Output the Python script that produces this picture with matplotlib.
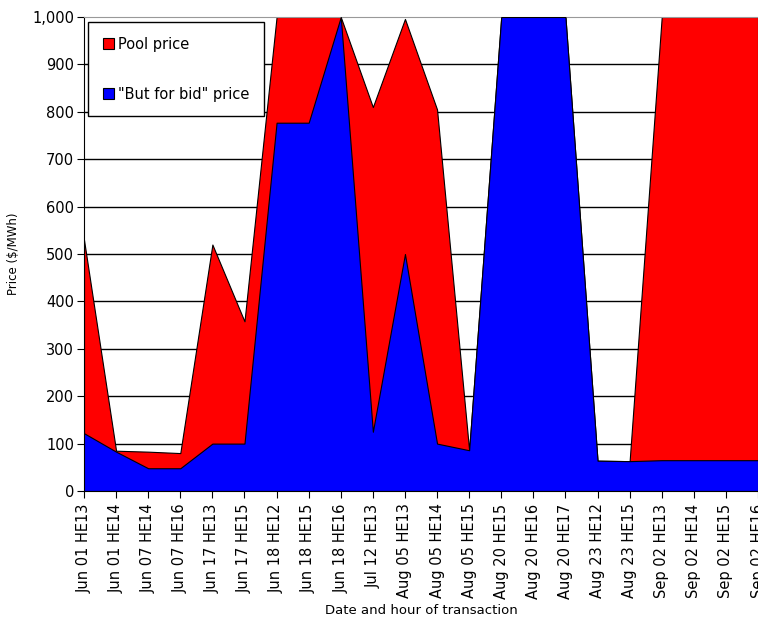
import numpy as np
import matplotlib.pyplot as plt
from matplotlib.ticker import FuncFormatter

# transaction labels along the x axis
hours = ["Jun 01 HE13", "Jun 01 HE14", "Jun 07 HE14", "Jun 07 HE16",
         "Jun 17 HE13", "Jun 17 HE15", "Jun 18 HE12", "Jun 18 HE15",
         "Jun 18 HE16", "Jul 12 HE13", "Aug 05 HE13", "Aug 05 HE14",
         "Aug 05 HE15", "Aug 20 HE15", "Aug 20 HE16", "Aug 20 HE17",
         "Aug 23 HE12", "Aug 23 HE15", "Sep 02 HE13", "Sep 02 HE14",
         "Sep 02 HE15", "Sep 02 HE16"]

pool_price = [530, 85, 83, 80, 520, 358, 1000, 1000, 1000, 810, 996, 805,
              86, 1000, 1000, 1000, 64, 63, 1000, 1000, 1000, 1000]
but_for_bid = [122, 83, 48, 48, 100, 100, 777, 777, 1000, 125, 500, 100,
               86, 1000, 1000, 1000, 64, 63, 65, 65, 65, 65]


def main():
    fig = plt.figure(figsize=(7.58, 6.21), dpi=100)
    ax = fig.add_axes([84 / 758, 1 - 491 / 621, 674 / 758, 474 / 621])
    x = np.arange(len(hours))

    for v in range(100, 1000, 100):
        ax.axhline(v, color='black', lw=1.0, zorder=0)

    ax.fill_between(x, 0, pool_price, facecolor='#ff0000', edgecolor='black',
                    lw=0.8, label='Pool price', zorder=2)
    ax.fill_between(x, 0, but_for_bid, facecolor='#0000ff', edgecolor='black',
                    lw=0.8, label='"But for bid" price', zorder=3)

    ax.set_xlim(0, len(hours) - 1)
    ax.set_ylim(0, 1000)
    ax.set_yticks(range(0, 1001, 100))
    ax.yaxis.set_major_formatter(FuncFormatter(lambda v, p: f"{int(v):,}"))
    ax.set_xticks(x)
    ax.set_xticklabels(hours, rotation=90, fontsize=10.5)
    ax.tick_params(axis='y', labelsize=10.5, length=5, direction='out', pad=2)
    ax.tick_params(axis='x', length=5, direction='out', pad=4)

    ax.spines['top'].set_color('#999999')
    ax.spines['right'].set_visible(False)
    ax.spines['bottom'].set_zorder(5)

    ax.set_ylabel("Price ($/MWh)", fontsize=8.5, labelpad=9)
    ax.set_xlabel("Date and hour of transaction", fontsize=9.5, labelpad=4)

    leg = ax.legend(loc='upper left', bbox_to_anchor=(0.006, 0.989),
                    borderaxespad=0, fontsize=10.5, fancybox=False,
                    framealpha=1, edgecolor='black', handlelength=0.8,
                    handleheight=0.8, handletextpad=0.25, labelspacing=2.4,
                    borderpad=1.0)
    leg.get_frame().set_linewidth(1.0)
    leg.set_zorder(10)

    fig.savefig('out.png', dpi=100)


if __name__ == "__main__":
    main()
